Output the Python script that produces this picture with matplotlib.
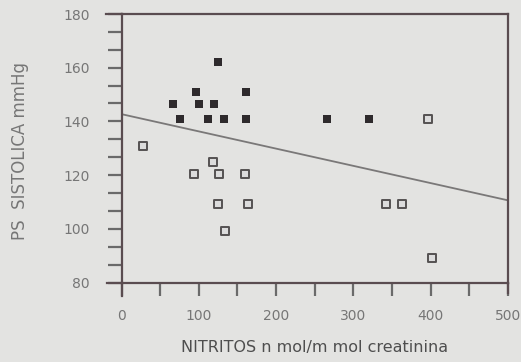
import matplotlib
matplotlib.use("Agg")
import matplotlib.pyplot as plt
from matplotlib.ticker import MultipleLocator
import numpy as np

plt.rcParams['font.family'] = ['DejaVu Sans']

# Data
hyper_x = [125, 96, 161, 66, 100, 120, 76, 112, 132, 161, 266, 320]
hyper_y = [162, 151, 151, 146.5, 146.5, 146.5, 141, 141, 141, 141, 141, 141]
normo_x = [28, 119, 94, 126, 160, 125, 164, 134, 396, 342, 363, 402]
normo_y = [130.7, 125, 120.3, 120.3, 120.3, 109.4, 109.3, 99.1, 141, 109.4, 109.4, 89.3]
line_x = [0, 500]
line_y = [142.7, 110.6]
x_ticks = [0, 100, 200, 300, 400, 500]
y_ticks = [80, 100, 120, 140, 160, 180]

bg = '#e3e3e1'
axis_col = '#5a4c50'
text_col = '#767676'

fig = plt.figure(figsize=(5.21, 3.62), dpi=100, facecolor=bg)
ax = fig.add_axes([121.5/521, 1-282.5/362, (508-121.5)/521, (282.5-14)/362])
ax.set_facecolor(bg)

ax.plot(line_x, line_y, color='#7a7878', lw=1.3, zorder=2)
ax.scatter(hyper_x, hyper_y, marker='s', s=38, color='#2e2a2c', zorder=3, linewidths=0)
ax.scatter(normo_x, normo_y, marker='s', s=30, facecolor='#dcdcdc', edgecolor='#555252',
           linewidths=1.4, zorder=3)

ax.set_xlim(0, 500)
ax.set_ylim(80, 180)
ax.set_xticks(x_ticks)
ax.set_yticks(y_ticks)
ax.xaxis.set_minor_locator(MultipleLocator(50))
ax.yaxis.set_minor_locator(MultipleLocator(20/3))

for s in ax.spines.values():
    s.set_color(axis_col)
    s.set_linewidth(1.6)

ax.tick_params(axis='both', which='both', direction='out', color='#6a6a6a', width=1.6,
               labelcolor=text_col, labelsize=10)
ax.tick_params(axis='x', which='both', length=9, pad=10)
ax.tick_params(axis='y', which='both', length=10, pad=13)

# extended spines as in the original drawing
ax.plot([-0.04, 0], [1, 1], transform=ax.transAxes, color=axis_col, lw=1.6, clip_on=False)
ax.plot([-0.038, 0], [0, 0], transform=ax.transAxes, color=axis_col, lw=1.6, clip_on=False)
ax.plot([0, 0], [0, -0.05], transform=ax.transAxes, color=axis_col, lw=1.6, clip_on=False)
ax.plot([1, 1], [0, -0.04], transform=ax.transAxes, color=axis_col, lw=1.6, clip_on=False)

ax.set_xlabel('NITRITOS n mol/m mol creatinina', color='#4e4e4e', fontsize=11.5)
ax.xaxis.set_label_coords(0.5, -0.215)
ax.set_ylabel('PS  SISTOLICA mmHg', color=text_col, fontsize=12)
ax.yaxis.set_label_coords(-0.24, 0.49)

fig.savefig('out.png', dpi=100, facecolor=bg)
